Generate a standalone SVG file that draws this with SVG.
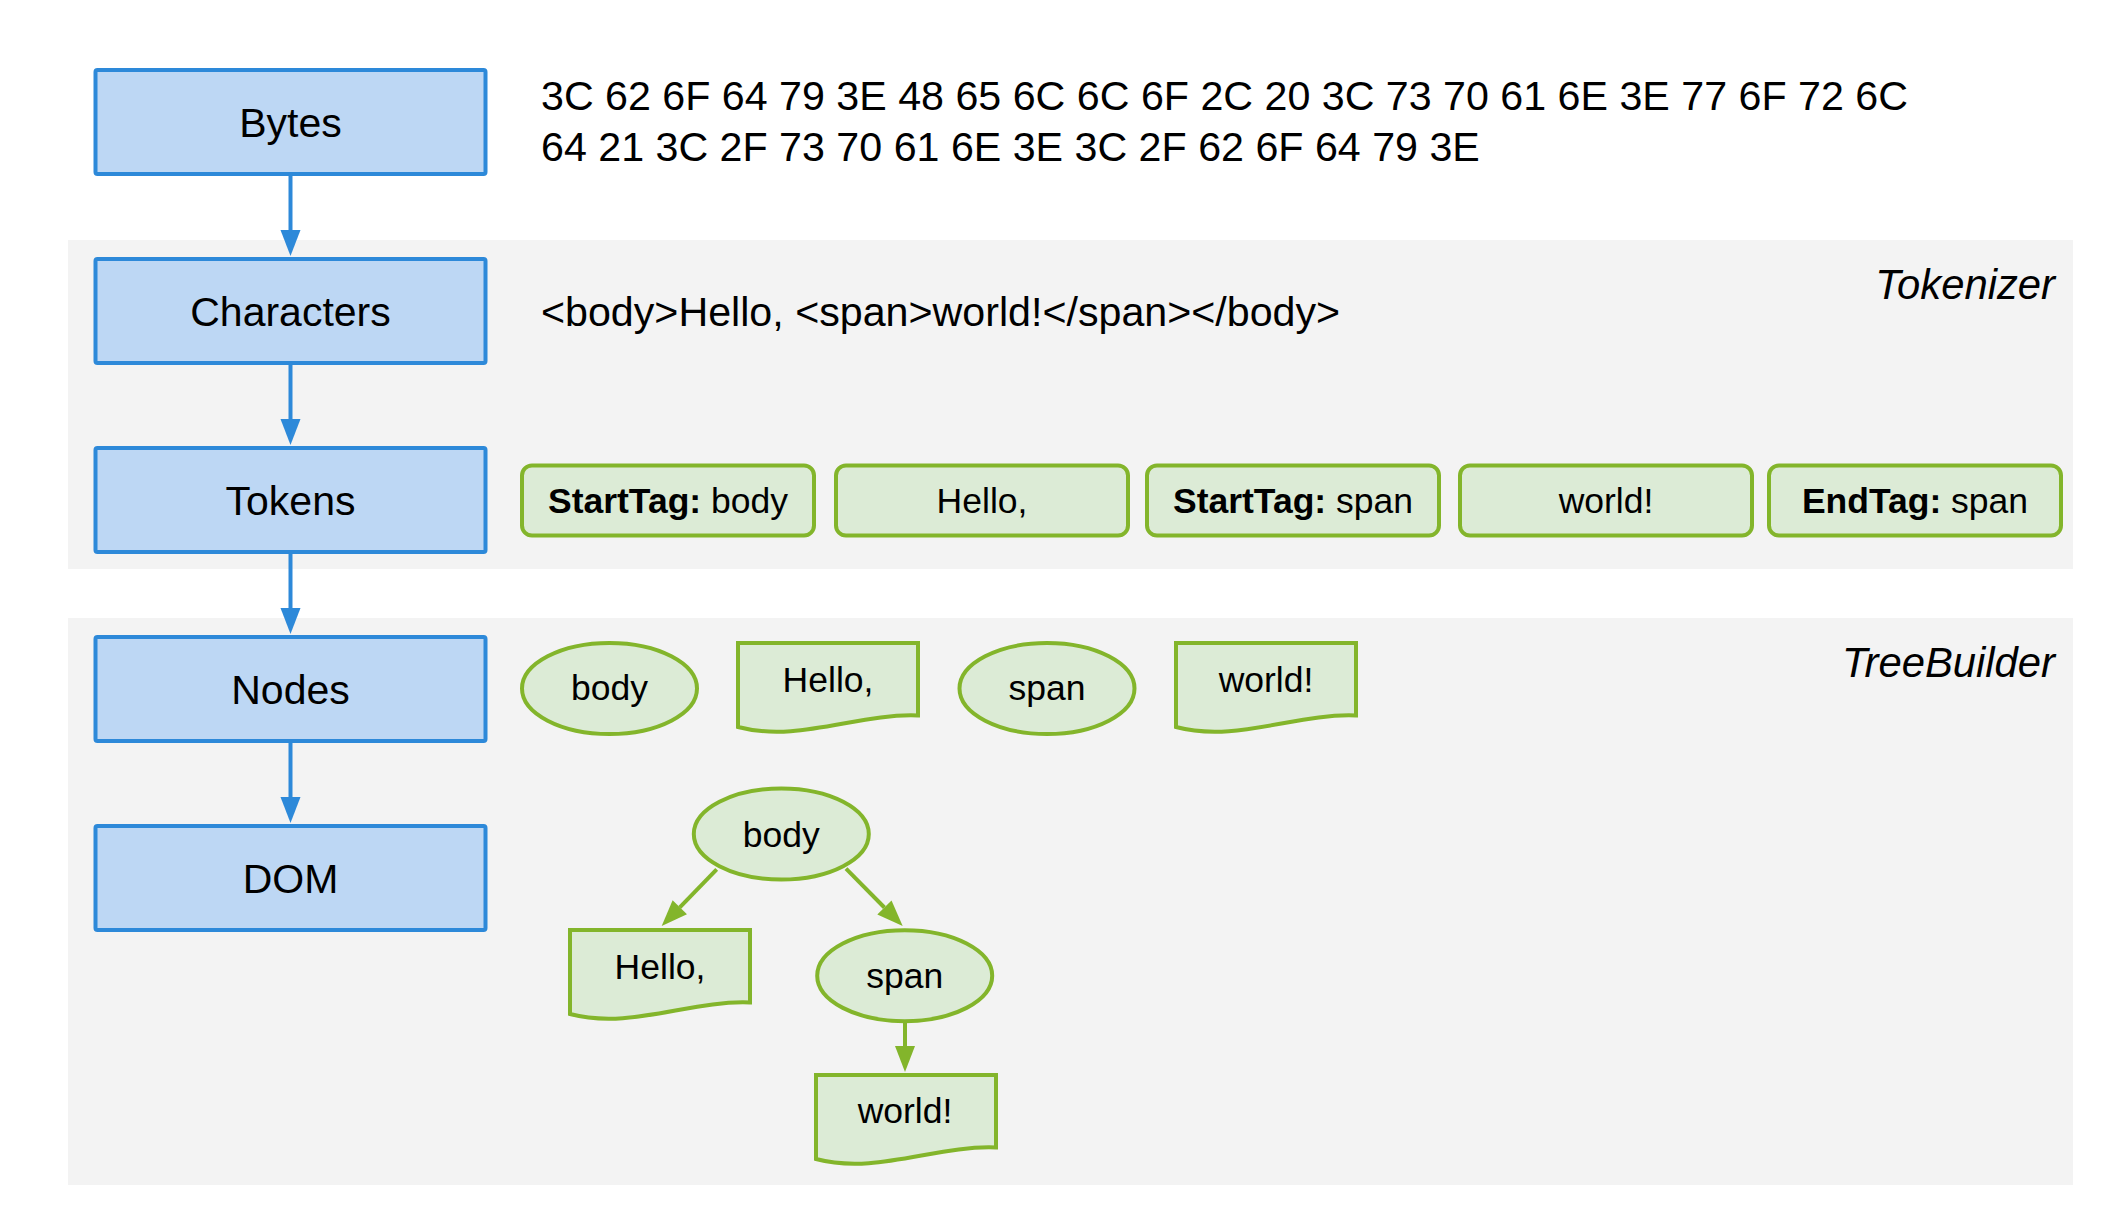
<svg xmlns="http://www.w3.org/2000/svg" width="2104" height="1228" viewBox="0 0 2104 1228">
<style>
text { font-family: "Liberation Sans", Arial, sans-serif; fill: #000; }
.band { fill: #f3f3f3; }
.stage rect { fill: #bdd7f4; stroke: #2d89d9; stroke-width: 4; }
.stage text { font-size: 41px; text-anchor: middle; }
.tok rect { fill: #dcebd6; stroke: #83b52b; stroke-width: 4; }
.g { fill: #dcebd6; stroke: #83b52b; stroke-width: 4; }
.gt { font-size: 35.5px; text-anchor: middle; }
.big { font-size: 41.2px; }
.lbl { font-size: 41.8px; font-style: italic; text-anchor: end; }
.blue { stroke: #2d89d9; stroke-width: 4; fill: none; }
.green { stroke: #83b52b; stroke-width: 4; fill: none; }
</style>
<defs>
<marker id="ab" markerUnits="userSpaceOnUse" markerWidth="27" markerHeight="22" refX="0" refY="10" orient="auto" overflow="visible">
<path d="M0,0 L26,10 L0,20 Z" fill="#2d89d9"/>
</marker>
<marker id="ag" markerUnits="userSpaceOnUse" markerWidth="27" markerHeight="22" refX="0" refY="10" orient="auto" overflow="visible">
<path d="M0,0 L26,10 L0,20 Z" fill="#83b52b"/>
</marker>
<path id="doc" d="M0,0 H180 V72.5 C120,70 60,100 0,84 Z"/>
</defs>
<rect width="2104" height="1228" fill="#fff"/>
<g id="tokenizer-band">
<rect class="band" x="68" y="240" width="2005" height="329"/>
<text class="lbl" x="2055" y="299">Tokenizer</text>
</g>
<g id="treebuilder-band">
<rect class="band" x="68" y="618" width="2005" height="567"/>
<text class="lbl" x="2055" y="677">TreeBuilder</text>
</g>
<g id="bytes" class="stage"><rect x="95.5" y="70" width="390" height="104" rx="2"/><text x="290.5" y="136.7">Bytes</text></g>
<g id="characters" class="stage"><rect x="95.5" y="259" width="390" height="104" rx="2"/><text x="290.5" y="325.7">Characters</text></g>
<g id="tokens" class="stage"><rect x="95.5" y="448" width="390" height="104" rx="2"/><text x="290.5" y="514.7">Tokens</text></g>
<g id="nodes" class="stage"><rect x="95.5" y="637" width="390" height="104" rx="2"/><text x="290.5" y="703.7">Nodes</text></g>
<g id="dom" class="stage"><rect x="95.5" y="826" width="390" height="104" rx="2"/><text x="290.5" y="892.7">DOM</text></g>
<g id="bytes-text"><text class="big" x="541" y="109.5">3C 62 6F 64 79 3E 48 65 6C 6C 6F 2C 20 3C 73 70 61 6E 3E 77 6F 72 6C</text><text class="big" x="541" y="160.7">64 21 3C 2F 73 70 61 6E 3E 3C 2F 62 6F 64 79 3E</text></g>
<g id="characters-text"><text class="big" x="541" y="326">&lt;body&gt;Hello, &lt;span&gt;world!&lt;/span&gt;&lt;/body&gt;</text></g>
<g id="token-1" class="tok"><rect x="522" y="465.5" width="292" height="70" rx="10"/><text class="gt" x="668" y="512.5"><tspan font-weight="bold">StartTag:</tspan> body</text></g>
<g id="token-2" class="tok"><rect x="836" y="465.5" width="292" height="70" rx="10"/><text class="gt" x="982" y="512.5">Hello,</text></g>
<g id="token-3" class="tok"><rect x="1147" y="465.5" width="292" height="70" rx="10"/><text class="gt" x="1293" y="512.5"><tspan font-weight="bold">StartTag:</tspan> span</text></g>
<g id="token-4" class="tok"><rect x="1460" y="465.5" width="292" height="70" rx="10"/><text class="gt" x="1606" y="512.5">world!</text></g>
<g id="token-5" class="tok"><rect x="1769" y="465.5" width="292" height="70" rx="10"/><text class="gt" x="1915" y="512.5"><tspan font-weight="bold">EndTag:</tspan> span</text></g>
<g id="node-body"><ellipse class="g" cx="609.5" cy="688.5" rx="87.5" ry="45.5"/><text class="gt" x="609.5" y="700">body</text></g>
<g id="node-hello"><use href="#doc" class="g" x="738" y="643"/><text class="gt" x="828" y="691.5">Hello,</text></g>
<g id="node-span"><ellipse class="g" cx="1047" cy="688.5" rx="87.5" ry="45.5"/><text class="gt" x="1047" y="700">span</text></g>
<g id="node-world"><use href="#doc" class="g" x="1176" y="643"/><text class="gt" x="1266" y="691.5">world!</text></g>
<g id="dom-body"><ellipse class="g" cx="781.3" cy="834" rx="87.5" ry="45.5"/><text class="gt" x="781.3" y="846.5">body</text></g>
<g id="dom-hello"><use href="#doc" class="g" x="570" y="930"/><text class="gt" x="660" y="979">Hello,</text></g>
<g id="dom-span"><ellipse class="g" cx="904.7" cy="975.7" rx="87.5" ry="45.5"/><text class="gt" x="904.7" y="988">span</text></g>
<g id="dom-world"><use href="#doc" class="g" x="816" y="1075"/><text class="gt" x="905" y="1123">world!</text></g>
<g id="connectors">
<line class="blue" x1="290.5" y1="176" x2="290.5" y2="230" marker-end="url(#ab)"/>
<line class="blue" x1="290.5" y1="365" x2="290.5" y2="419" marker-end="url(#ab)"/>
<line class="blue" x1="290.5" y1="554" x2="290.5" y2="608" marker-end="url(#ab)"/>
<line class="blue" x1="290.5" y1="743" x2="290.5" y2="797" marker-end="url(#ab)"/>
<line class="green" x1="716.7" y1="869.3" x2="679.8" y2="907.3" marker-end="url(#ag)"/>
<line class="green" x1="846" y1="868.7" x2="884.4" y2="907.5" marker-end="url(#ag)"/>
<line class="green" x1="905" y1="1021.5" x2="905" y2="1046" marker-end="url(#ag)"/>
</g>
</svg>
